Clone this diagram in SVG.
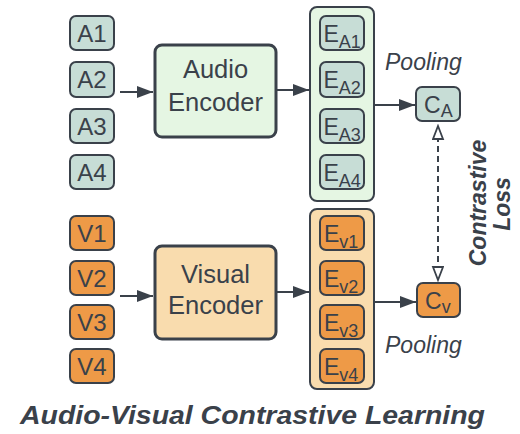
<svg xmlns="http://www.w3.org/2000/svg" width="520" height="434" viewBox="0 0 520 434">
<style>
text{font-family:"Liberation Sans",Arial,sans-serif;fill:#3a414a}
.box{stroke:#3a414a;stroke-width:2}
.aud{fill:#c7ddd6}
.vis{fill:#ee9a47}
.enc{stroke:#3a414a;stroke-width:3}
.lbl{font-size:24px;text-anchor:middle}
.big{font-size:25.5px;text-anchor:middle}
.em{font-size:23px}
.sub{font-size:18px}
.conn{stroke:#3a414a;stroke-width:2;fill:none}
.it{font-size:23px;font-style:italic}
</style>
<defs>
<marker id="arr" markerUnits="userSpaceOnUse" markerWidth="17" markerHeight="13" refX="16" refY="6" orient="auto">
<path d="M0,0 L16,6 L0,12 z" fill="#3a414a"/>
</marker>
<marker id="open" markerUnits="userSpaceOnUse" markerWidth="16" markerHeight="14" refX="14" refY="6" orient="auto-start-reverse">
<path d="M1,1 L14,6 L1,11 z" fill="#fff" stroke="#3a414a" stroke-width="1.8"/>
</marker>
</defs>

<g id="A1"><rect class="box aud" x="70" y="16" width="44" height="34" rx="6"/><text class="lbl" x="92" y="42">A1</text></g>
<g id="A2"><rect class="box aud" x="70" y="62" width="44" height="35" rx="6"/><text class="lbl" x="92" y="88">A2</text></g>
<g id="A3"><rect class="box aud" x="70" y="109" width="44" height="34" rx="6"/><text class="lbl" x="92" y="135">A3</text></g>
<g id="A4"><rect class="box aud" x="70" y="155" width="44" height="34" rx="6"/><text class="lbl" x="92" y="181">A4</text></g>

<g id="V1"><rect class="box vis" x="70" y="216" width="44" height="34" rx="6"/><text class="lbl" x="92" y="242">V1</text></g>
<g id="V2"><rect class="box vis" x="70" y="261" width="44" height="34" rx="6"/><text class="lbl" x="92" y="287">V2</text></g>
<g id="V3"><rect class="box vis" x="70" y="305" width="44" height="34" rx="6"/><text class="lbl" x="92" y="331">V3</text></g>
<g id="V4"><rect class="box vis" x="70" y="349" width="44" height="34" rx="6"/><text class="lbl" x="92" y="375">V4</text></g>

<g id="audio-encoder"><rect class="enc" x="155" y="45" width="121" height="92" rx="7" fill="#e5f6e3"/><text class="big" x="215.5" y="78">Audio</text><text class="big" x="215.5" y="111">Encoder</text></g>
<g id="visual-encoder"><rect class="enc" x="155" y="246" width="121" height="93" rx="7" fill="#f9dcae"/><text class="big" x="215.5" y="283">Visual</text><text class="big" x="215.5" y="314">Encoder</text></g>

<g id="audio-embeddings"><rect class="box" x="310" y="7" width="64" height="194" rx="7" fill="#e5f6e3"/>
<g id="EA1"><rect class="box aud" x="320" y="16" width="44" height="34" rx="6"/><text x="323.5" y="42"><tspan class="em">E</tspan><tspan class="sub" dy="6">A1</tspan></text></g>
<g id="EA2"><rect class="box aud" x="320" y="62" width="44" height="35" rx="6"/><text x="323.5" y="88"><tspan class="em">E</tspan><tspan class="sub" dy="6">A2</tspan></text></g>
<g id="EA3"><rect class="box aud" x="320" y="109" width="44" height="34" rx="6"/><text x="323.5" y="135"><tspan class="em">E</tspan><tspan class="sub" dy="6">A3</tspan></text></g>
<g id="EA4"><rect class="box aud" x="320" y="155" width="44" height="34" rx="6"/><text x="323.5" y="181"><tspan class="em">E</tspan><tspan class="sub" dy="6">A4</tspan></text></g>
</g>

<g id="visual-embeddings"><rect class="box" x="310" y="209" width="64" height="180" rx="7" fill="#f9dcae"/>
<g id="EV1"><rect class="box vis" x="320" y="216" width="44" height="34" rx="6"/><text x="324" y="242"><tspan class="em">E</tspan><tspan class="sub" dy="6">v1</tspan></text></g>
<g id="EV2"><rect class="box vis" x="320" y="261" width="44" height="34" rx="6"/><text x="324" y="287"><tspan class="em">E</tspan><tspan class="sub" dy="6">v2</tspan></text></g>
<g id="EV3"><rect class="box vis" x="320" y="305" width="44" height="34" rx="6"/><text x="324" y="331"><tspan class="em">E</tspan><tspan class="sub" dy="6">v3</tspan></text></g>
<g id="EV4"><rect class="box vis" x="320" y="349" width="44" height="34" rx="6"/><text x="324" y="375"><tspan class="em">E</tspan><tspan class="sub" dy="6">v4</tspan></text></g>
</g>

<g id="CA"><rect class="box aud" x="416" y="87" width="44" height="34" rx="6"/><text x="424" y="113"><tspan class="em">C</tspan><tspan class="sub" dy="4">A</tspan></text></g>
<g id="CV"><rect class="box vis" x="417" y="283" width="43" height="34" rx="6"/><text x="425" y="309"><tspan class="em">C</tspan><tspan class="sub" dy="4">v</tspan></text></g>

<g id="connectors">
<line class="conn" x1="120" y1="92" x2="153" y2="92" marker-end="url(#arr)"/>
<line class="conn" x1="276" y1="90" x2="309" y2="90" marker-end="url(#arr)"/>
<line class="conn" x1="374" y1="105" x2="415" y2="105" marker-end="url(#arr)"/>
<line class="conn" x1="120" y1="296" x2="153" y2="296" marker-end="url(#arr)"/>
<line class="conn" x1="276" y1="292" x2="309" y2="292" marker-end="url(#arr)"/>
<line class="conn" x1="374" y1="302" x2="416" y2="302" marker-end="url(#arr)"/>
<line class="conn" x1="438" y1="126" x2="438" y2="280" stroke-dasharray="6,4" marker-start="url(#open)" marker-end="url(#open)"/>
</g>

<text class="it" x="385" y="70">Pooling</text>
<text class="it" x="385" y="353">Pooling</text>
<text font-size="23" font-weight="bold" font-style="italic" text-anchor="middle" transform="translate(486,203) rotate(-90)">Contrastive</text>
<text font-size="23" font-weight="bold" font-style="italic" text-anchor="middle" transform="translate(510,204) rotate(-90)">Loss</text>
<text font-size="25" font-weight="bold" font-style="italic" x="20" y="424" textLength="465" lengthAdjust="spacingAndGlyphs">Audio-Visual Contrastive Learning</text>
</svg>
